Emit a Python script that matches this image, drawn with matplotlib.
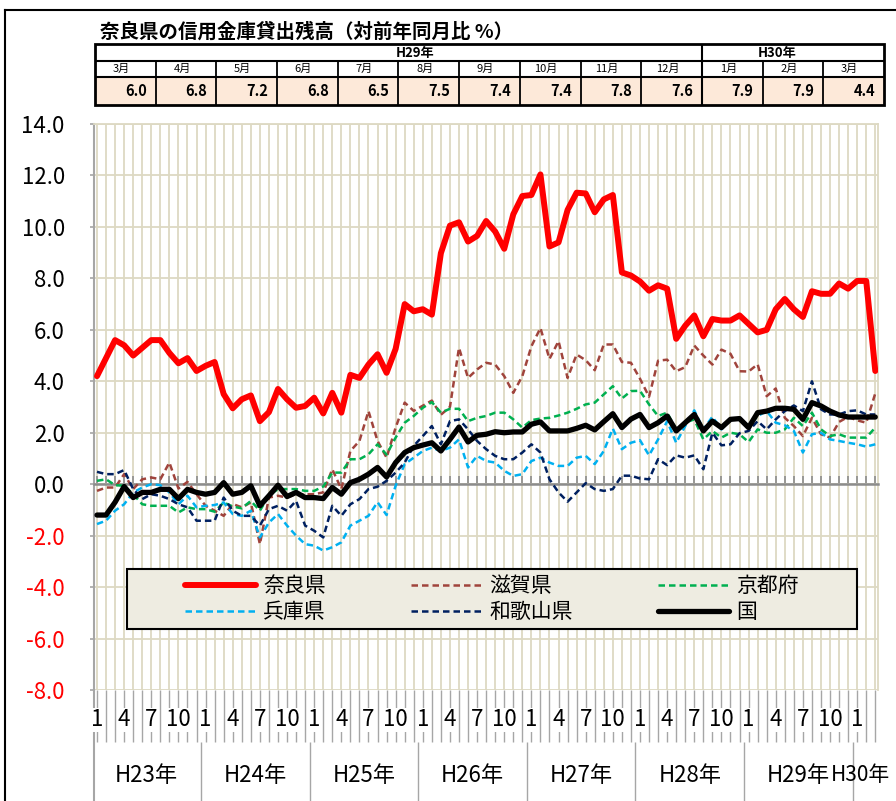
import numpy as np
import matplotlib.pyplot as plt
from matplotlib.lines import Line2D
from matplotlib.patches import Rectangle

plt.rcParams['font.family'] = ['Noto Sans CJK JP', 'DejaVu Sans']

# monthly series, H23/1 .. H30/3 (87 months)
nara = [4.2, 4.9, 5.6, 5.4, 5.0, 5.3, 5.6, 5.6, 5.1, 4.7, 4.9, 4.4,
        4.6, 4.75, 3.5, 2.95, 3.3, 3.45, 2.45, 2.8, 3.7, 3.3, 2.97, 3.04,
        3.36, 2.75, 3.55, 2.78, 4.25, 4.13, 4.65, 5.05, 4.33, 5.26, 7.0, 6.72,
        6.8, 6.59, 8.98, 10.05, 10.18, 9.43, 9.65, 10.23, 9.82, 9.15, 10.49, 11.2,
        11.24, 12.04, 9.24, 9.4, 10.66, 11.33, 11.3, 10.57, 11.07, 11.24, 8.23, 8.11,
        7.88, 7.52, 7.73, 7.6, 5.65, 6.16, 6.56, 5.75, 6.42, 6.36, 6.36, 6.56,
        6.23, 5.9, 6.0, 6.8, 7.2, 6.8, 6.5, 7.5, 7.4, 7.4, 7.8, 7.6,
        7.9, 7.9, 4.4]
shiga = [-0.26, -0.13, -0.13, 0.39, -0.19, 0.19, 0.26, 0.19, 0.84, -0.17, 0.09, -0.39,
         -0.84, -1.03, -1.23, -0.77, -0.9, -0.71, -2.33, -0.52, -0.45, -0.52, -0.39, -0.39,
         -0.39, -0.32, 0.58, -0.19, 1.29, 1.68, 2.84, 1.68, 1.03, 2.2, 3.17, 2.85,
         3.05, 3.25, 2.7, 3.0, 5.3, 4.13, 4.46, 4.72, 4.65, 4.2, 3.55, 4.2,
         5.36, 6.07, 4.87, 5.56, 4.13, 5.04, 4.82, 4.43, 5.43, 5.43, 4.75, 4.72,
         4.1, 3.4, 4.8, 4.84, 4.39, 4.55, 5.39, 5.0, 4.65, 5.23, 5.07, 4.39,
         4.38, 4.66, 3.42, 3.72, 2.58, 2.26, 1.87, 2.58, 1.94, 1.81, 2.42, 2.62,
         2.48, 2.39, 3.53]
kyoto = [0.13, 0.19, -0.04, -0.06, -0.39, -0.78, -0.84, -0.84, -0.84, -1.1, -0.9, -0.97,
         -0.97, -1.07, -0.71, -0.87, -0.94, -0.65, -1.03, -0.45, -0.19, -0.19, -0.19, -0.26,
         -0.26, -0.09, 0.45, 0.45, 0.97, 0.97, 1.16, 1.55, 1.15, 1.81, 2.39, 2.65,
         2.97, 3.19, 2.78, 2.93, 2.93, 2.45, 2.58, 2.65, 2.78, 2.78, 2.52, 2.2,
         2.49, 2.55, 2.58, 2.67, 2.78, 2.93, 3.1, 3.17, 3.49, 3.81, 3.33, 3.62,
         3.63, 3.1, 2.65, 2.78, 2.13, 2.39, 2.52, 1.74, 2.07, 1.81, 2.0, 1.94,
         1.64, 2.13, 2.0, 2.0, 2.13, 2.58, 2.26, 2.78, 2.13, 1.87, 1.94, 1.81,
         1.81, 1.81, 2.2]
hyogo = [-1.55, -1.42, -1.03, -0.78, -0.32, -0.13, 0.0, -0.04, -0.32, -0.78, -0.45, -0.9,
         -0.84, -0.81, -0.71, -1.16, -1.23, -1.03, -2.07, -1.49, -1.16, -1.61, -2.0, -2.33,
         -2.39, -2.58, -2.45, -2.26, -1.61, -1.42, -1.23, -0.7, -1.2, -0.06, 0.78, 1.03,
         1.29, 1.42, 1.29, 1.42, 1.74, 0.65, 1.1, 0.9, 0.84, 0.52, 0.32, 0.39,
         0.9, 1.03, 0.84, 0.71, 0.71, 1.03, 1.1, 0.78, 1.29, 2.16, 1.36, 1.61,
         1.71, 1.12, 1.74, 2.45, 1.61, 2.26, 2.87, 2.13, 2.62, 2.13, 2.52, 2.58,
         2.26, 2.65, 2.84, 2.39, 2.29, 2.07, 1.23, 1.94, 2.0, 1.74, 1.68, 1.61,
         1.55, 1.46, 1.55]
wakayama = [0.48, 0.39, 0.39, 0.55, -0.19, -0.58, -0.39, -0.45, -0.58, -0.78, -0.9, -1.42,
            -1.42, -1.42, -0.52, -1.03, -1.23, -1.23, -1.61, -0.97, -0.84, -1.03, -0.65, -1.61,
            -1.81, -2.07, -0.84, -1.23, -0.78, -0.58, -0.19, -0.1, 0.13, 0.45, 0.84, 1.49,
            1.87, 2.26, 1.55, 2.45, 2.52, 2.13, 1.68, 1.36, 1.1, 0.97, 0.97, 1.23,
            1.55, 1.23, 0.19, -0.32, -0.68, -0.32, 0.04, -0.19, -0.26, -0.19, 0.33, 0.33,
            0.22, 0.19, 0.97, 0.74, 1.12, 1.03, 1.12, 0.58, 2.0, 1.51, 1.55, 1.98,
            2.07, 2.45, 2.13, 2.52, 2.84, 3.06, 2.84, 4.0, 2.91, 2.71, 2.71, 2.84,
            2.87, 2.71, 2.71]
kuni = [-1.2, -1.2, -0.7, -0.09, -0.52, -0.32, -0.32, -0.2, -0.2, -0.56, -0.2, -0.32,
        -0.39, -0.32, 0.06, -0.39, -0.32, -0.06, -0.84, -0.45, -0.04, -0.48, -0.32, -0.52,
        -0.52, -0.56, -0.13, -0.39, 0.06, 0.19, 0.39, 0.65, 0.28, 0.84, 1.23, 1.42,
        1.52, 1.61, 1.29, 1.74, 2.22, 1.64, 1.9, 1.94, 2.04, 2.0, 2.03, 2.03,
        2.33, 2.42, 2.07, 2.07, 2.07, 2.17, 2.29, 2.11, 2.43, 2.74, 2.2, 2.53,
        2.71, 2.2, 2.39, 2.65, 2.07, 2.39, 2.71, 2.07, 2.45, 2.2, 2.52, 2.55,
        2.2, 2.78, 2.84, 2.95, 2.95, 2.91, 2.52, 3.17, 3.04, 2.84, 2.69, 2.61,
        2.61, 2.61, 2.61]

months = list(range(1, 13)) * 7 + [1, 2, 3]
years = ['H23年', 'H24年', 'H25年', 'H26年', 'H27年', 'H28年', 'H29年', 'H30年']

# table above the chart
tbl_months = ['3月', '4月', '5月', '6月', '7月', '8月', '9月', '10月', '11月', '12月',
              '1月', '2月', '3月']
tbl_values = [6.0, 6.8, 7.2, 6.8, 6.5, 7.5, 7.4, 7.4, 7.8, 7.6, 7.9, 7.9, 4.4]

W, H = 896, 801
fig = plt.figure(figsize=(W / 100, H / 100), dpi=100)

# outer frame
fig.add_artist(Line2D([5 / W, 5 / W], [0, 1 - 10 / H], color='black', lw=1.5))
fig.add_artist(Line2D([5 / W, 1], [1 - 10 / H, 1 - 10 / H], color='black', lw=1.5))

fig.text(100 / W, 1 - 32 / H, '奈良県の信用金庫貸出残高（対前年同月比 %）',
         fontsize=14, fontweight='bold', va='center')

# ---- table ----
tx0, tx1, ty0, ty1 = 95, 884, 44, 105
tax = fig.add_axes([tx0 / W, 1 - ty1 / H, (tx1 - tx0) / W, (ty1 - ty0) / H])
tw, th = tx1 - tx0, ty1 - ty0
tax.set_xlim(0, tw)
tax.set_ylim(th, 0)
tax.axis('off')
cw = tw / 13
r1, r2 = 17, 33
tax.add_patch(Rectangle((0, r2), tw, th - r2, fc='#FDE9D9', ec='none'))
tax.add_patch(Rectangle((0, 0), tw, th, fc='none', ec='black', lw=2, clip_on=False))
tax.plot([0, tw], [r1, r1], color='black', lw=1.5)
tax.plot([0, tw], [r2, r2], color='black', lw=1.5)
for k in range(1, 13):
    top = 0 if k == 10 else r1
    tax.plot([k * cw, k * cw], [top, th], color='black', lw=1.5 if k == 10 else 1.3)
tax.text(320, r1 / 2, 'H29年', ha='center', va='center', fontsize=9.5, fontweight='bold')
tax.text(682, r1 / 2, 'H30年', ha='center', va='center', fontsize=9.5, fontweight='bold')
for k, (m, v) in enumerate(zip(tbl_months, tbl_values)):
    tax.text(k * cw + cw / 2 - 4, (r1 + r2) / 2, m, ha='center', va='center', fontsize=8)
    tax.text((k + 1) * cw - 9, (r2 + th) / 2, f'{v:.1f}', ha='right', va='center',
             fontsize=10.5, fontweight='bold')

# ---- chart ----
ax = fig.add_axes([94 / W, 1 - 690 / H, 784 / W, 566 / H])
x = np.arange(len(nara))
grid_c = '#DDD9C3'
axis_c = '#8C8C8C'

styles = [
    (nara, '奈良県', dict(color='#FF0000', lw=4.3, solid_capstyle='round', solid_joinstyle='round')),
    (shiga, '滋賀県', dict(color='#A0443C', lw=1.8, dashes=(2.6, 1.6))),
    (kyoto, '京都府', dict(color='#00B050', lw=1.8, dashes=(2.6, 1.6))),
    (hyogo, '兵庫県', dict(color='#00B0F0', lw=1.8, dashes=(2.6, 1.6))),
    (wakayama, '和歌山県', dict(color='#002060', lw=1.8, dashes=(2.6, 1.6))),
    (kuni, '国', dict(color='black', lw=3.8, solid_capstyle='round', solid_joinstyle='round')),
]
handles = {}
for vals, name, kw in styles:
    handles[name], = ax.plot(x, vals, label=name, zorder=3, **kw)

ax.set_xlim(-0.33, 86.3)
ax.set_ylim(-8, 14)
ax.set_xticks(x)
yt = np.arange(-8, 14.1, 2)
ax.set_yticks(yt)
ax.set_yticklabels([f'{v:.1f}' for v in yt], fontsize=16)
for lbl, v in zip(ax.get_yticklabels(), yt):
    lbl.set_color('red' if v < 0 else 'black')
ax.grid(True, color=grid_c, lw=1.3)
ax.set_axisbelow(True)

ax.spines['bottom'].set_position(('data', 0))
ax.spines['bottom'].set_color(axis_c)
ax.spines['bottom'].set_linewidth(1.8)
ax.spines['left'].set_color('#A6A6A6')
ax.spines['left'].set_linewidth(1.5)
for s in ('top', 'right'):
    ax.spines[s].set_color(grid_c)
    ax.spines[s].set_linewidth(1.3)
ax.tick_params(axis='x', direction='in', length=6, width=1.2, color=axis_c, labelbottom=False)
ax.tick_params(axis='y', direction='out', length=3, width=1.2, color='#A6A6A6', pad=18)

# category label area below the plot
trans = ax.get_xaxis_transform()
lvl = -52 / 566
bot = -112 / 566
ax.vlines(x, lvl, 0, transform=trans, clip_on=False, color='#A6A6A6', lw=1)
for i, m in enumerate(months):
    if m in (1, 4, 7, 10):
        ax.text(i, -30 / 566, str(m), transform=trans, ha='center', va='center',
                fontsize=16, bbox=dict(fc='white', ec='none', pad=0.3))
bounds = [12 * k - 0.5 for k in range(1, 8)]
ax.vlines(bounds, bot, lvl, transform=trans, clip_on=False, color='#A6A6A6', lw=1)
ax.plot([-0.33, -0.33], [bot, 0], transform=trans, clip_on=False, color='#A6A6A6', lw=1.5)
for k, yr in enumerate(years):
    cx = 12 * k + 5.5 if k < 7 else 84.4
    ax.text(cx, -85 / 566, yr, transform=trans, ha='center', va='center',
            fontsize=16 if k < 7 else 15)

# legend
lx0, lx1, ly0, ly1 = 127, 857, 569, 629
ax.add_patch(Rectangle(((lx0 - 94) / 784, (690 - ly1) / 566), (lx1 - lx0) / 784,
                       (ly1 - ly0) / 566, transform=ax.transAxes, fc='#EEECE1',
                       ec='black', lw=1.5, zorder=6))
order = ['奈良県', '兵庫県', '滋賀県', '和歌山県', '京都府', '国']
leg = ax.legend([handles[n] for n in order], order, ncol=3, loc='center',
                bbox_to_anchor=(((lx0 + lx1) / 2 - 94) / 784, (690 - (ly0 + ly1) / 2) / 566),
                frameon=False, fontsize=15, handlelength=3.4, handletextpad=0.35,
                columnspacing=4.1, labelspacing=0.2)
leg.set_zorder(7)

fig.savefig('out.png', dpi=100)
